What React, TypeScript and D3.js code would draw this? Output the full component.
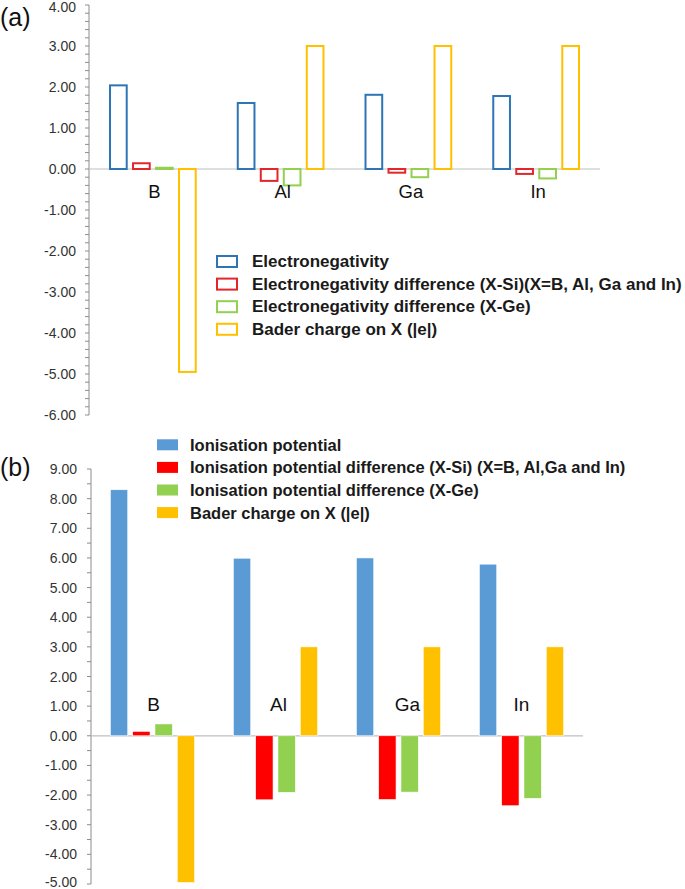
import React from "react";
import * as d3 from "d3";

const categories = ["B", "Al", "Ga", "In"];

const enSeries = ["Electronegativity", "Electronegativity difference (X-Si)(X=B, Al, Ga and In)", "Electronegativity difference (X-Ge)", "Bader charge on X (|e|)"];
const electronegativity = [2.04, 1.61, 1.81, 1.78];
const enDiffSi = [0.14, -0.29, -0.09, -0.12];
const enDiffGe = [0.03, -0.4, -0.2, -0.23];
const baderCharge = [-4.95, 3.0, 3.0, 3.0];

const ipSeries = ["Ionisation potential", "Ionisation potential difference (X-Si) (X=B, Al,Ga and In)", "Ionisation potential difference (X-Ge)", "Bader charge on X (|e|)"];
const ionisation = [8.3, 5.99, 6.0, 5.79];
const ipDiffSi = [0.15, -2.16, -2.15, -2.36];
const ipDiffGe = [0.4, -1.91, -1.9, -2.11];

const topTicks = [4, 3, 2, 1, 0, -1, -2, -3, -4, -5, -6];
const bottomTicks = [9, 8, 7, 6, 5, 4, 3, 2, 1, 0, -1, -2, -3, -4, -5];

const topColors = ["#2E75B6", "#E3262B", "#92D050", "#FFC000"];
const bottomColors = ["#5B9BD5", "#FF0000", "#92D050", "#FFC000"];

const FONT = "'Liberation Sans', Arial, sans-serif";

type PanelProps = {
  data: number[][];
  names: string[];
  colors: string[];
  filled: boolean;
  y: d3.ScaleLinear<number, number>;
  xRange: [number, number];
  ticks: number[];
  minorStep: number;
  axisX: number;
  labelX: number;
  catY: (v: number) => number;
  catNudge: number[];
  catFont: number;
  legendX: number;
  legendY: number;
  legendSq: [number, number];
  legendTextX: number;
  legendFont: number;
  panelLabel: string;
  panelLabelY: number;
  padInner: number;
  padOuter: number;
};

function Panel(p: PanelProps) {
  const x = d3.scaleBand<string>().domain(categories).range(p.xRange).padding(0);
  const sub = d3
    .scaleBand<number>()
    .domain(d3.range(p.names.length))
    .range([0, x.bandwidth()])
    .paddingInner(p.padInner)
    .paddingOuter(p.padOuter);
  const y = p.y;
  const [d0, d1] = y.domain();
  const minor = d3.range(d0, d1 + 1e-9, p.minorStep);
  const y0 = y(0);
  const clampY = (v: number) => Math.max(7, Math.min(882, y(v)));
  return (
    <g>
      <text x={0} y={p.panelLabelY} fontSize={25} fontFamily={FONT} dominantBaseline="central" fill="#111">
        {p.panelLabel}
      </text>
      {/* axis */}
      <line x1={p.axisX} x2={p.axisX} y1={y(d1)} y2={y(d0)} stroke="#8c8c8c" strokeWidth={1} />
      {minor.map((v, i) => (
        <line key={"m" + i} x1={p.axisX - 4} x2={p.axisX} y1={y(v)} y2={y(v)} stroke="#8c8c8c" strokeWidth={1} />
      ))}
      {p.ticks.map((t) => (
        <text
          key={"t" + t}
          x={p.labelX}
          y={clampY(t)}
          textAnchor="end"
          dominantBaseline="central"
          fontSize={14}
          fontFamily={FONT}
          fill="#333"
        >
          {t.toFixed(2)}
        </text>
      ))}
      <line x1={p.axisX} x2={p.xRange[1]} y1={y0} y2={y0} stroke="#bfbfbf" strokeWidth={1.2} />
      {/* bars */}
      {categories.map((c, ci) =>
        p.data.map((series, si) => {
          const v = series[ci];
          const bx = (x(c) as number) + (sub(si) as number);
          const top = Math.min(y(v), y0);
          const h = Math.abs(y(v) - y0);
          return p.filled ? (
            <rect key={c + si} x={bx} y={top} width={sub.bandwidth()} height={h} fill={p.colors[si]} stroke="#fff" strokeWidth={0.6} />
          ) : (
            <rect key={c + si} x={bx + 1} y={top} width={sub.bandwidth() - 2} height={Math.max(h, 1)} fill="none" stroke={p.colors[si]} strokeWidth={2} />
          );
        })
      )}
      {categories.map((c, ci) => (
        <text
          key={"c" + c}
          x={(x(c) as number) + x.bandwidth() / 2 + p.catNudge[ci]}
          y={p.catY(y0)}
          textAnchor="middle"
          fontSize={p.catFont}
          fontFamily={FONT}
          fill="#111"
        >
          {c}
        </text>
      ))}
      {/* legend */}
      {p.names.map((n, i) => {
        const ly = p.legendY + i * 22.6;
        return (
          <g key={"l" + i}>
            {p.filled ? (
              <rect x={p.legendX} y={ly - p.legendSq[1] / 2} width={p.legendSq[0]} height={p.legendSq[1]} fill={p.colors[i]} />
            ) : (
              <rect
                x={p.legendX + 1}
                y={ly - p.legendSq[1] / 2}
                width={p.legendSq[0] - 2}
                height={p.legendSq[1]}
                fill="none"
                stroke={p.colors[i]}
                strokeWidth={2}
              />
            )}
            <text x={p.legendTextX} y={ly} dominantBaseline="central" fontSize={p.legendFont} fontWeight="bold" fontFamily={FONT} fill="#1a1a1a">
              {n}
            </text>
          </g>
        );
      })}
    </g>
  );
}

export default function App() {
  const yTop = d3.scaleLinear().domain([-6, 4]).range([415, 5]);
  const yBot = d3.scaleLinear().domain([-5, 9]).range([884, 469]);
  return (
    <svg width={685} height={889} style={{ position: "absolute", left: 0, top: 0, background: "#fff" }}>
      <rect width={685} height={889} fill="#fff" />
      <Panel
        data={[electronegativity, enDiffSi, enDiffGe, baderCharge]}
        names={enSeries}
        colors={topColors}
        filled={false}
        y={yTop}
        xRange={[89, 600]}
        ticks={topTicks}
        minorStep={0.2}
        axisX={89}
        labelX={76}
        catY={(y0) => y0 + 28.5}
        catNudge={[1.5, 2, 2.5, 2]}
        catFont={18.5}
        legendX={216}
        legendY={261.5}
        legendSq={[22, 11]}
        legendTextX={252}
        legendFont={17}
        panelLabel="(a)"
        panelLabelY={17}
        padInner={0.187}
        padOuter={0.87}
      />
      <Panel
        data={[ionisation, ipDiffSi, ipDiffGe, baderCharge]}
        names={ipSeries}
        colors={bottomColors}
        filled={true}
        y={yBot}
        xRange={[91, 583]}
        ticks={bottomTicks}
        minorStep={0.5}
        axisX={91}
        labelX={77}
        catY={(y0) => y0 - 25}
        catNudge={[1, 3, 9, 0]}
        catFont={19}
        legendX={157}
        legendY={444.8}
        legendSq={[21, 11]}
        legendTextX={190}
        legendFont={16.5}
        panelLabel="(b)"
        panelLabelY={467}
        padInner={0.22}
        padOuter={0.868}
      />
    </svg>
  );
}
